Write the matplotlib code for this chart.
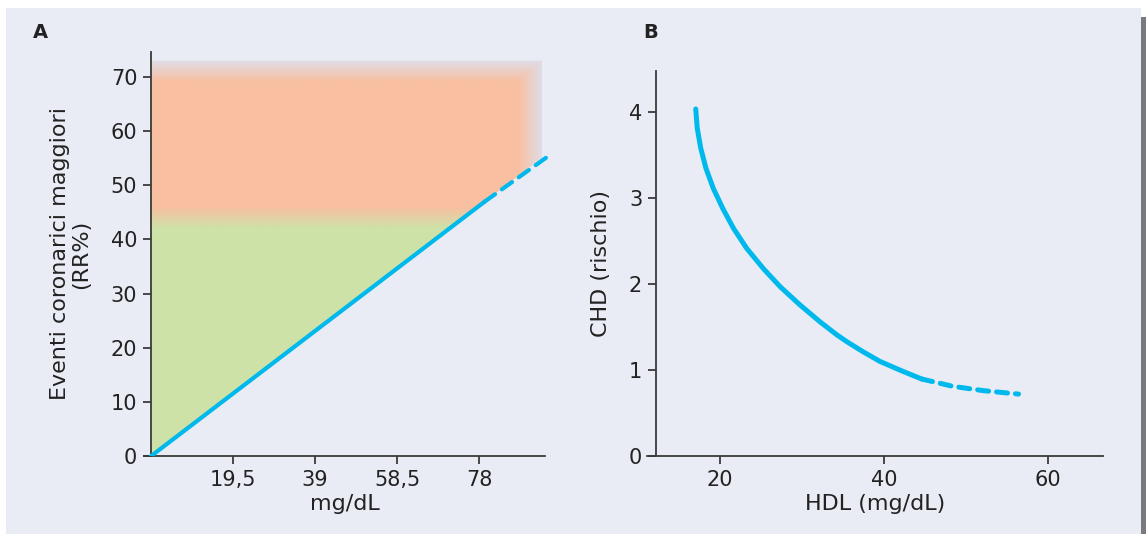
import numpy as np
import matplotlib
matplotlib.use("Agg")
from matplotlib import pyplot as plt
from matplotlib.patches import Rectangle, Polygon

# panel A: linear relation (mg/dL vs RR%)
a_solid_x = [0, 79.4]
a_solid_y = [0, 47.0]
a_dash_x = [79.4, 94.9]
a_dash_y = [47.0, 55.6]
a_xticks = [19.5, 39, 58.5, 78]
a_xticklabels = ['19,5', '39', '58,5', '78']
a_yticks = [0, 10, 20, 30, 40, 50, 60, 70]

# panel B: HDL vs CHD risk
b_solid_x = [17.04, 17.23, 17.65, 18.29, 19.19, 20.33, 21.63, 23.25, 25.28, 27.32,
			 29.76, 32.2, 34.23, 35.45, 37.48, 39.5, 42.16, 44.6]
b_solid_y = [4.035, 3.81, 3.58, 3.345, 3.11, 2.88, 2.65, 2.415, 2.18, 1.97,
			 1.756, 1.56, 1.41, 1.33, 1.21, 1.10, 0.99, 0.895]
b_dash_x = [44.6, 48.4, 52.1, 56.4]
b_dash_y = [0.895, 0.81, 0.76, 0.72]
b_xticks = [20, 40, 60]
b_yticks = [0, 1, 2, 3, 4]

BG = '#E9ECF5'
BLUE = '#00B9EC'
AX = '#3A3A3A'
TXT = '#222222'
ORANGE = np.array([249, 191, 161]) / 255.
GREEN = np.array([206, 226, 168]) / 255.
EDGE = np.array([223, 221, 231]) / 255.
FS = 15   # tick labels
LFS = 16  # axis labels

W, H = 1146, 534
fig = plt.figure(figsize=(W / 100, H / 100), dpi=100, facecolor='white')
fig.patches.append(Rectangle((6 / W, 0), (1141 - 6) / W, 526 / H,
							 transform=fig.transFigure, facecolor=BG, edgecolor='none', zorder=-10))
fig.patches.append(Rectangle((1141 / W, 0), 5 / W, 517 / H,
							 transform=fig.transFigure, facecolor='#7A7A7E', edgecolor='none', zorder=-10))


def style(ax):
	ax.set_facecolor('none')
	for s in ['top', 'right']:
		ax.spines[s].set_visible(False)
	for s in ['left', 'bottom']:
		ax.spines[s].set_color(AX)
		ax.spines[s].set_linewidth(1.3)
	ax.tick_params(direction='out', length=6, width=1.3, color=AX,
				   labelsize=FS, labelcolor=TXT, pad=4)


# ---------- panel A ----------
axA = fig.add_axes([144 / W, (534 - 456) / H, (545 - 144) / W, (456 - 52) / H])
style(axA)
axA.set_xlim(-1.7, 93.7)
axA.set_ylim(0, 74.6)
axA.spines['left'].set_position(('data', 0))

# shaded zone: green -> orange vertically, faded top/right edges
xs = np.linspace(0, 93, 500)
ys = np.linspace(0, 73, 500)
X, Y = np.meshgrid(xs, ys)
t = np.clip((Y - 42) / 4.0, 0, 1)[..., None]
col = GREEN * (1 - t) + ORANGE * t
w = np.minimum(np.clip((73 - Y) / 4.0, 0, 1), np.clip((93 - X) / 5.5, 0, 1))[..., None]
col = col * w + EDGE * (1 - w)
im = axA.imshow(col, extent=[0, 93, 0, 73], origin='lower', aspect='auto',
				interpolation='bilinear', zorder=1)
slope = a_solid_y[1] / a_solid_x[1]
clip = Polygon([(0, 0), (93, 93 * slope), (93, 73), (0, 73)], closed=True,
			   transform=axA.transData, facecolor='none', edgecolor='none')
axA.add_patch(clip)
im.set_clip_path(clip)

axA.plot(a_solid_x, a_solid_y, color=BLUE, lw=3, solid_capstyle='round', zorder=3)
axA.plot(a_dash_x, a_dash_y, color=BLUE, lw=3, dashes=(3, 2), dash_capstyle='round',
		 zorder=3, clip_on=False)

axA.set_xticks(a_xticks)
axA.set_xticklabels(a_xticklabels)
axA.set_yticks(a_yticks)
axA.set_xlabel('mg/dL', fontsize=LFS, color=TXT, labelpad=3)
axA.set_ylabel('Eventi coronarici maggiori\n(RR%)', fontsize=LFS, color=TXT,
			   linespacing=1.05, labelpad=14)
fig.text(33 / W, 1 - 32 / H, 'A', fontsize=14, fontweight='bold', color=TXT, va='center')

# ---------- panel B ----------
axB = fig.add_axes([647 / W, (534 - 456) / H, (1103 - 647) / W, (456 - 70.7) / H])
style(axB)
axB.set_xlim(11.1, 66.7)
axB.set_ylim(0, 4.48)
axB.spines['left'].set_position(('data', 12.2))

axB.plot(b_solid_x, b_solid_y, color=BLUE, lw=3.6, solid_capstyle='round', zorder=3)
axB.plot(b_dash_x, b_dash_y, color=BLUE, lw=3.6, dashes=(2.2, 1.6), dash_capstyle='round', zorder=3)

axB.set_xticks(b_xticks)
axB.set_yticks(b_yticks)
axB.set_xlabel('HDL (mg/dL)', fontsize=LFS, color=TXT, labelpad=3)
axB.set_ylabel('CHD (rischio)', fontsize=LFS, color=TXT, labelpad=13)
fig.text(643 / W, 1 - 32 / H, 'B', fontsize=14, fontweight='bold', color=TXT, va='center')

fig.savefig('out.png', dpi=100, facecolor=fig.get_facecolor())
